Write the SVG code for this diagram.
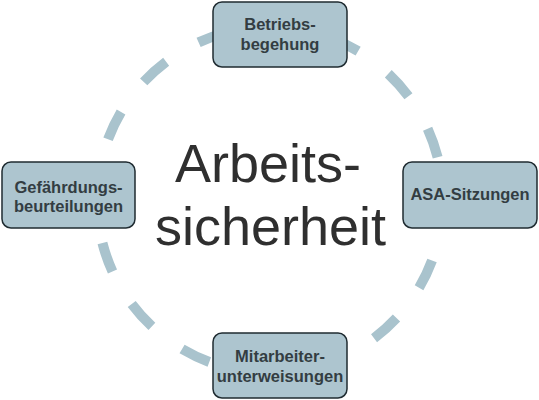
<svg xmlns="http://www.w3.org/2000/svg" width="539" height="400" viewBox="0 0 539 400">
<style>
.box{fill:#adc5cf;stroke:#1f2b31;stroke-width:1.5}
.lbl{font-family:"Liberation Sans",Arial,sans-serif;font-weight:bold;font-size:16.5px;fill:#333d42;text-anchor:middle}
.ctr{font-family:"Liberation Sans",Arial,sans-serif;font-size:54px;fill:#2f2f2f;text-anchor:middle}
.ring{fill:none;stroke:#a9c3cd;stroke-width:10;stroke-dasharray:30.2 37.74;stroke-dashoffset:6.04}
</style>
<rect width="539" height="400" fill="#ffffff"/>
<g id="connectors">
<circle class="ring" cx="270" cy="200" r="173"/>
</g>
<g id="center">
<text class="ctr" x="268" y="182">Arbeits-</text>
<text class="ctr" x="270.5" y="245">sicherheit</text>
</g>
<g id="node-betriebsbegehung">
<rect class="box" x="213" y="2" width="134" height="65" rx="9"/>
<text class="lbl" x="280" y="30">Betriebs-</text>
<text class="lbl" x="280" y="50">begehung</text>
</g>
<g id="node-gefaehrdungsbeurteilungen">
<rect class="box" x="2" y="162" width="133" height="66" rx="9"/>
<text class="lbl" x="68.5" y="193">Gefährdungs-</text>
<text class="lbl" x="68.5" y="212">beurteilungen</text>
</g>
<g id="node-asa-sitzungen">
<rect class="box" x="403" y="162" width="134" height="66" rx="9"/>
<text class="lbl" x="470" y="200">ASA-Sitzungen</text>
</g>
<g id="node-mitarbeiterunterweisungen">
<rect class="box" x="213" y="333" width="134" height="65" rx="9"/>
<text class="lbl" x="280" y="362">Mitarbeiter-</text>
<text class="lbl" x="280" y="382">unterweisungen</text>
</g>
</svg>
